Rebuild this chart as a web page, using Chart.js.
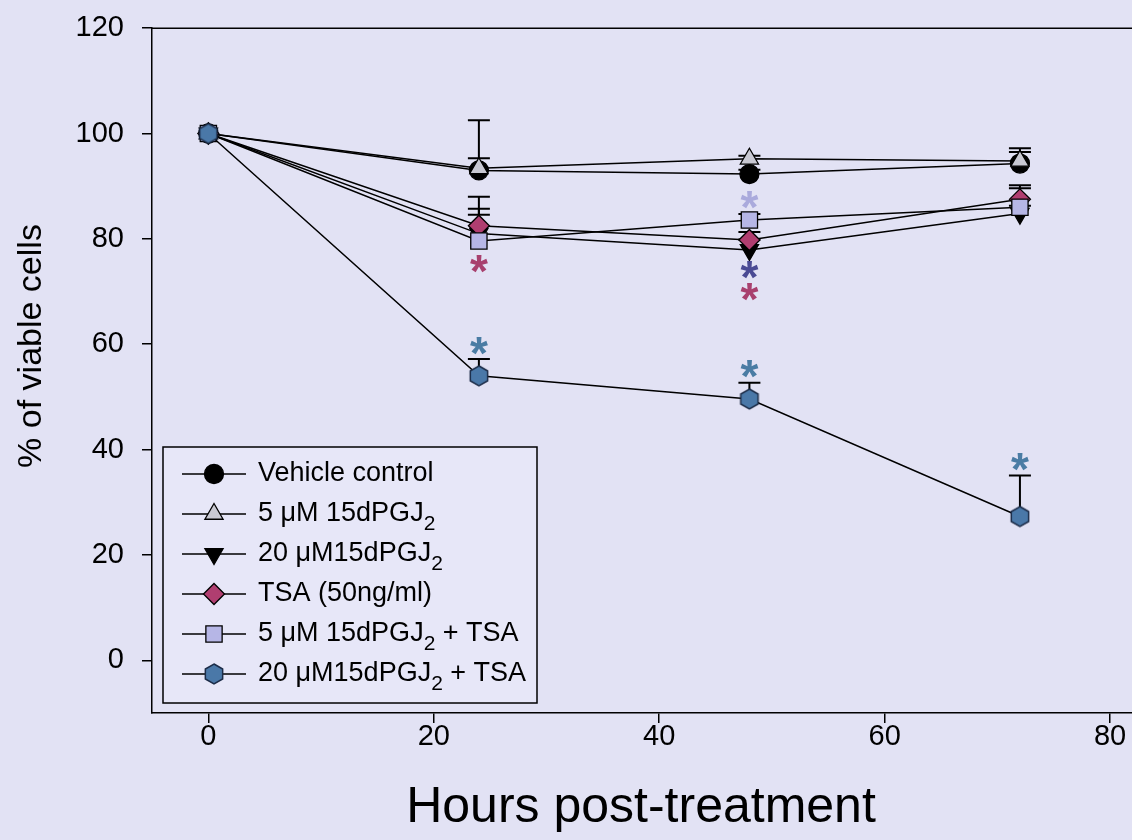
<!DOCTYPE html>
<html>
<head>
<meta charset="utf-8">
<script src="https://cdn.jsdelivr.net/npm/chart.js@4.4.1/dist/chart.umd.min.js"></script>
<style>
html, body { margin: 0; padding: 0; overflow: hidden; background: #e2e2f4; }
canvas { display: block; }
</style>
</head>
<body>
<canvas id="chart" width="1168" height="840"></canvas>
<script>
const hours = [0, 24, 48, 72];
const seriesLabels = ['Vehicle control', '5 μM 15dPGJ₂', '20 μM15dPGJ₂', 'TSA (50ng/ml)', '5 μM 15dPGJ₂ + TSA', '20 μM15dPGJ₂ + TSA'];

const vehicle = [100, 93.0, 92.3, 94.3];
const pgj5 = [100, 93.4, 95.2, 94.8];
const pgj20 = [100, 81.0, 77.9, 84.8];
const tsa = [100, 82.5, 79.8, 87.5];
const pgj5Tsa = [100, 79.6, 83.6, 86.0];
const pgj20Tsa = [100, 54.0, 49.6, 27.3];

// upper error bars (+SE)
const vehicleErr = [0, 9.5, 0.8, 2.2];
const pgj5Err = [0, 1.9, 0.6, 2.4];
const pgj20Err = [0, 7.0, 2.0, 1.5];
const tsaErr = [0, 3.2, 1.5, 2.7];
const pgj5TsaErr = [0, 5.0, 1.1, 3.6];
const pgj20TsaErr = [0, 3.2, 3.1, 7.8];

// significance asterisks
const starHours = [24, 24, 48, 48, 48, 48, 72];
const starValues = [75.3, 59.6, 87.4, 74.0, 70.0, 55.3, 37.6];
const starColors = ['#a8406e', '#4a7ca4', '#aaaadc', '#4b4b94', '#a8406e', '#4a7ca4', '#4a7ca4'];

const xTicks = [0, 20, 40, 60, 80];
const yTicks = [0, 20, 40, 60, 80, 100, 120];
const xTitle = 'Hours post-treatment';
const yTitle = '% of viable cells';

const FONT = "'Liberation Sans', Arial, sans-serif";
Chart.defaults.font.family = FONT;
Chart.defaults.color = '#000';

function hexagon(r, fill, stroke) {
  const c = document.createElement('canvas');
  const s = Math.ceil(r * 2 + 4);
  c.width = s; c.height = s;
  const g = c.getContext('2d');
  g.beginPath();
  for (let i = 0; i < 6; i++) {
    const a = -Math.PI / 2 + i * Math.PI / 3;
    g.lineTo(s / 2 + r * Math.cos(a), s / 2 + r * Math.sin(a));
  }
  g.closePath();
  g.fillStyle = fill; g.fill();
  g.lineWidth = 1.5; g.strokeStyle = stroke; g.stroke();
  return c;
}
const hexImg = hexagon(10, '#4a78a8', '#1c2c48');

function series(i, values, err, style, fill, radius, rotation, order) {
  return {
    label: seriesLabels[i],
    data: hours.map((h, k) => ({ x: h, y: values[k] })),
    errorBars: err,
    borderColor: '#000',
    borderWidth: 1.5,
    pointStyle: style,
    pointRadius: radius,
    pointRotation: rotation,
    pointBackgroundColor: fill,
    pointBorderColor: '#000',
    pointBorderWidth: 1.3,
    order: order
  };
}

const datasets = [
  series(0, vehicle, vehicleErr, 'circle', '#000', 9.5, 0, 5),
  series(1, pgj5, pgj5Err, 'triangle', '#c8c8d2', 10.5, 0, 4),
  series(2, pgj20, pgj20Err, 'triangle', '#000', 10.5, 180, 3),
  series(3, tsa, tsaErr, 'rectRot', '#b03e70', 10.5, 0, 2),
  series(4, pgj5Tsa, pgj5TsaErr, 'rect', '#b6b6e6', 11.5, 0, 1),
  series(5, pgj20Tsa, pgj20TsaErr, hexImg, '#4a78a8', 10, 0, 0)
];

const background = {
  id: 'background',
  beforeDraw(chart) {
    const ctx = chart.ctx;
    ctx.save();
    ctx.fillStyle = '#e2e2f4';
    ctx.fillRect(0, 0, chart.width, chart.height);
    ctx.restore();
  },
  afterDraw(chart) {
    const { ctx, chartArea } = chart;
    ctx.save();
    ctx.strokeStyle = '#000';
    ctx.lineWidth = 1.5;
    ctx.beginPath();
    ctx.moveTo(chartArea.left, chartArea.top);
    ctx.lineTo(chartArea.right, chartArea.top);
    ctx.lineTo(chartArea.right, chartArea.bottom);
    ctx.stroke();
    // axis titles
    ctx.fillStyle = '#000';
    ctx.textAlign = 'center';
    ctx.textBaseline = 'middle';
    ctx.font = '50px ' + FONT;
    ctx.fillText(xTitle, 641, 808);
    ctx.translate(32, 346);
    ctx.rotate(-Math.PI / 2);
    ctx.font = '34px ' + FONT;
    ctx.fillText(yTitle, 0, 0);
    ctx.restore();
  }
};

const errorBars = {
  id: 'errorBars',
  beforeDatasetsDraw(chart) {
    const { ctx, scales: { x, y } } = chart;
    ctx.save();
    ctx.strokeStyle = '#000';
    ctx.lineWidth = 2;
    chart.data.datasets.forEach(ds => {
      ds.data.forEach((p, k) => {
        const e = ds.errorBars[k];
        if (!e) return;
        const px = x.getPixelForValue(p.x);
        const y0 = y.getPixelForValue(p.y);
        const y1 = y.getPixelForValue(p.y + e);
        ctx.beginPath();
        ctx.moveTo(px, y0); ctx.lineTo(px, y1);
        ctx.moveTo(px - 11, y1); ctx.lineTo(px + 11, y1);
        ctx.stroke();
      });
    });
    ctx.restore();
  }
};

const stars = {
  id: 'stars',
  afterDatasetsDraw(chart) {
    const { ctx, scales: { x, y } } = chart;
    ctx.save();
    ctx.font = 'bold 46px ' + FONT;
    ctx.textAlign = 'center';
    ctx.textBaseline = 'alphabetic';
    const m = ctx.measureText('*');
    const shift = (m.actualBoundingBoxAscent - m.actualBoundingBoxDescent) / 2;
    starHours.forEach((h, i) => {
      ctx.fillStyle = starColors[i];
      ctx.fillText('*', x.getPixelForValue(h), y.getPixelForValue(starValues[i]) + shift);
    });
    ctx.restore();
  }
};

function drawLabel(ctx, text, x, y) {
  const parts = text.split('₂');
  let cx = x;
  parts.forEach((p, i) => {
    ctx.font = '27px ' + FONT;
    ctx.fillText(p, cx, y);
    cx += ctx.measureText(p).width;
    if (i < parts.length - 1) {
      ctx.font = '21px ' + FONT;
      ctx.fillText('2', cx, y + 10);
      cx += ctx.measureText('2').width;
    }
  });
}

const legendBox = {
  id: 'legendBox',
  afterDraw(chart) {
    const ctx = chart.ctx;
    const bx = 163, by = 447, bw = 374, bh = 256;
    ctx.save();
    ctx.fillStyle = '#e7e7f8';
    ctx.fillRect(bx, by, bw, bh);
    ctx.strokeStyle = '#000';
    ctx.lineWidth = 1.5;
    ctx.strokeRect(bx, by, bw, bh);
    chart.data.datasets.forEach((ds, i) => {
      const ry = 474 + i * 40;
      ctx.strokeStyle = '#000';
      ctx.lineWidth = 1.5;
      ctx.beginPath();
      ctx.moveTo(182, ry); ctx.lineTo(246, ry);
      ctx.stroke();
      ctx.fillStyle = ds.pointBackgroundColor;
      ctx.lineWidth = ds.pointBorderWidth;
      Chart.helpers.drawPoint(ctx, { pointStyle: ds.pointStyle, radius: ds.pointRadius, rotation: ds.pointRotation, borderWidth: ds.pointBorderWidth }, 214, ry);
      ctx.fillStyle = '#000';
      ctx.textBaseline = 'middle';
      ctx.textAlign = 'left';
      drawLabel(ctx, ds.label, 258, ry);
    });
    ctx.restore();
  }
};

new Chart(document.getElementById('chart'), {
  type: 'line',
  data: { datasets: datasets },
  options: {
    responsive: false,
    animation: false,
    layout: { padding: { top: 21, right: 4, left: 0, bottom: 0 } },
    plugins: { legend: { display: false }, tooltip: { enabled: false } },
    scales: {
      x: {
        type: 'linear',
        min: -5,
        max: 84,
        afterBuildTicks: s => { s.ticks = xTicks.map(v => ({ value: v })); },
        afterFit: s => { s.height = 127; },
        grid: { drawOnChartArea: false, tickLength: 10, color: '#000', lineWidth: 1.5 },
        border: { color: '#000', width: 1.5 },
        ticks: { font: { size: 29 }, padding: -3, maxRotation: 0 }
      },
      y: {
        min: -10,
        max: 120,
        afterBuildTicks: s => { s.ticks = yTicks.map(v => ({ value: v })); },
        afterFit: s => { s.width = 152; },
        grid: { drawOnChartArea: false, tickLength: 10, color: '#000', lineWidth: 1.5 },
        border: { color: '#000', width: 1.5 },
        ticks: { font: { size: 29, lineHeight: 0.7 }, padding: 18 }
      }
    }
  },
  plugins: [background, errorBars, stars, legendBox]
});
</script>
</body>
</html>
